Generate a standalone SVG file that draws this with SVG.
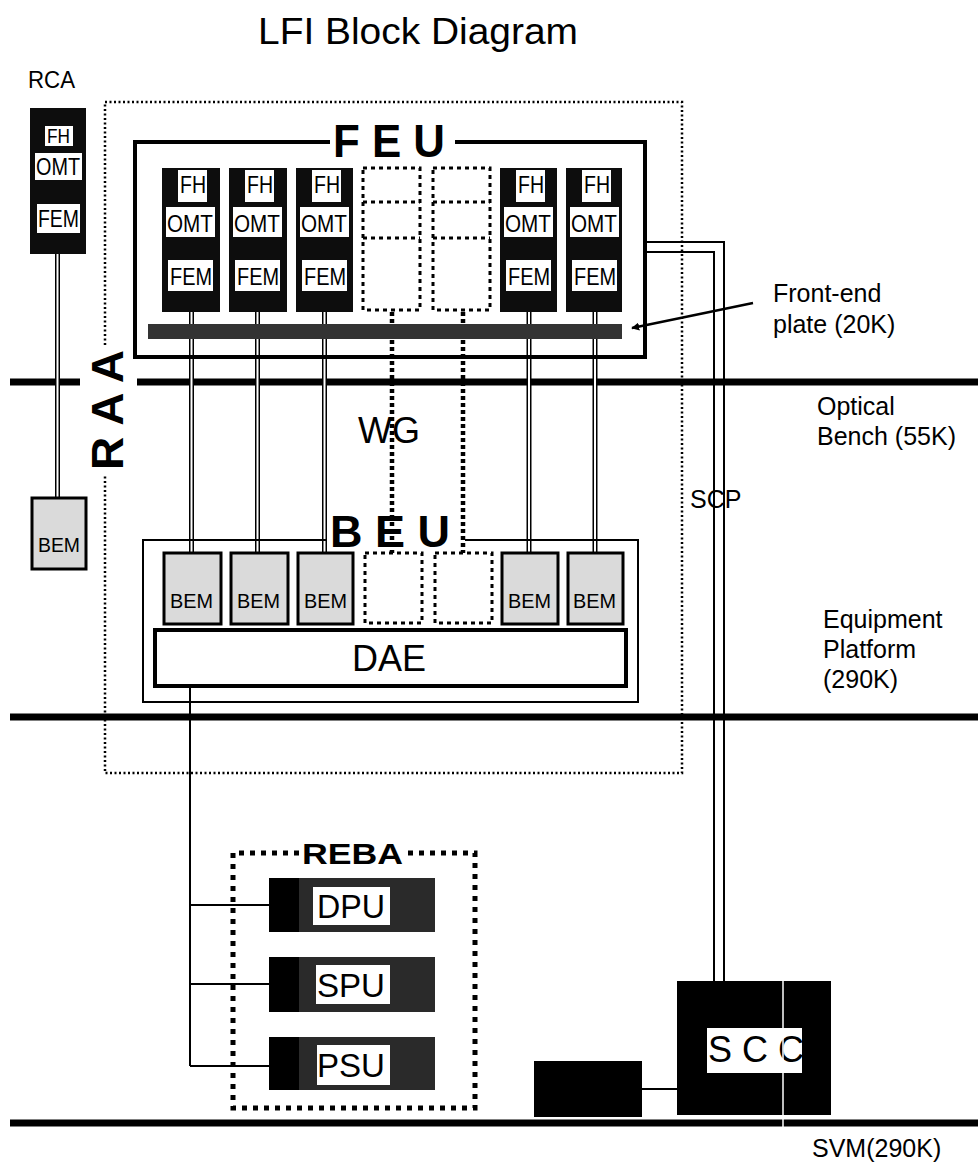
<svg xmlns="http://www.w3.org/2000/svg" width="978" height="1164" viewBox="0 0 978 1164">
<style>
text{font-family:"Liberation Sans",Arial,sans-serif;fill:#000}
.lbl{font-size:25px}
.mod{font-size:24px}
.bem{font-size:21px}
.bold{font-weight:bold}
.col{fill:#0d0d0d}
.wbox{fill:#fff}
.bemr{fill:#dadada;stroke:#000;stroke-width:3}
.bench{stroke:#000;stroke-width:7;fill:none}
.dotted{fill:none;stroke:#000;stroke-width:2.5;stroke-dasharray:2 2.5}
.dash{fill:none;stroke:#000;stroke-width:3;stroke-dasharray:4 4}
.wg{fill:none;stroke:#000;stroke-width:4.5;stroke-dasharray:4 3}
.dbl{fill:none;stroke:#000;stroke-width:5}
.dblw{fill:none;stroke:#fff;stroke-width:2}
.thin{fill:none;stroke:#000;stroke-width:2}
</style>
<defs>
<marker id="arr" viewBox="0 0 10 10" refX="9" refY="5" markerWidth="8" markerHeight="8" markerUnits="userSpaceOnUse" orient="auto">
<path d="M0,0 L10,5 L0,10 z" fill="#000"/>
</marker>
<clipPath id="sccclip"><rect x="707" y="1028" width="95" height="45"/></clipPath>
</defs>
<rect width="978" height="1164" fill="#fff"/>

<g id="title"><text x="258" y="44" font-size="37" textLength="320" lengthAdjust="spacingAndGlyphs">LFI Block Diagram</text></g>

<g id="benches">
<path class="bench" d="M10,382 H80 M137,382 H978"/>
<path class="bench" d="M10,717 H978"/>
<path class="bench" d="M10,1123 H978"/>
</g>

<g id="raa">
<path class="dotted" d="M105,345 V102 H682 V773 H105 V475"/>
<text class="bold" font-size="44" transform="translate(123,470) rotate(-90)" textLength="120" lengthAdjust="spacingAndGlyphs">R A A</text>
</g>

<g id="connectors">
<path class="dbl" d="M57.5,254 V498 M191.5,312 V553 M257.5,312 V553 M324.5,312 V553 M529,312 V553 M595,312 V553"/>
<path class="dblw" d="M57.5,254 V498 M191.5,312 V553 M257.5,312 V553 M324.5,312 V553 M529,312 V553 M595,312 V553"/>
<path class="wg" d="M392,312 V553 M463,312 V553"/>
<path class="thin" d="M647,242 H724 V981 M647,252 H714 V981"/>
<path class="thin" d="M190,688 V1066 M190,905 H269 M190,984 H269 M190,1066 H269"/>
<path class="thin" d="M642,1089 H677"/>
<path fill="none" stroke="#000" stroke-width="2.5" d="M753,303 L632,328" marker-end="url(#arr)"/>
</g>

<g id="rca">
<text x="28" y="88" font-size="24" textLength="47" lengthAdjust="spacingAndGlyphs">RCA</text>
<rect class="col" x="30" y="108" width="56" height="146"/>
<rect class="wbox" x="45" y="126" width="28" height="20"/>
<text x="47" y="143" font-size="20" textLength="23" lengthAdjust="spacingAndGlyphs">FH</text>
<rect class="wbox" x="35" y="153" width="47" height="27"/>
<text x="36" y="175" font-size="24" textLength="44" lengthAdjust="spacingAndGlyphs">OMT</text>
<rect class="wbox" x="37" y="204" width="43" height="29"/>
<text x="38" y="227" font-size="23" textLength="41" lengthAdjust="spacingAndGlyphs">FEM</text>
</g>
<g id="rca-bem">
<rect class="bemr" x="32" y="498" width="54" height="71"/>
<text class="bem" x="38" y="552" textLength="42" lengthAdjust="spacingAndGlyphs">BEM</text>
</g>

<g id="feu">
<path fill="none" stroke="#000" stroke-width="4" d="M330,142 H135 V357 H645 V142 H455"/>
<text class="bold" font-size="46" x="333" y="157" textLength="112" lengthAdjust="spacingAndGlyphs">F E U</text>
<rect x="148" y="324" width="474" height="15" fill="#333"/>
<path class="dash" d="M363,168 H420 V310 H363 Z M433,168 H490 V310 H433 Z M363,202 H420 M363,238 H420 M433,202 H490 M433,238 H490"/>
</g>

<g id="fem1">
<rect class="col" x="162" y="168" width="58" height="144"/>
<rect class="wbox" x="178" y="170" width="29" height="32"/><text class="mod" x="180" y="193" textLength="26" lengthAdjust="spacingAndGlyphs">FH</text>
<rect class="wbox" x="166" y="207" width="49" height="30"/><text class="mod" x="167" y="232" textLength="46" lengthAdjust="spacingAndGlyphs">OMT</text>
<rect class="wbox" x="168" y="260" width="45" height="31"/><text class="mod" x="170" y="285" textLength="42" lengthAdjust="spacingAndGlyphs">FEM</text>
</g>
<g id="fem2">
<rect class="col" x="229" y="168" width="58" height="144"/>
<rect class="wbox" x="245" y="170" width="29" height="32"/><text class="mod" x="247" y="193" textLength="26" lengthAdjust="spacingAndGlyphs">FH</text>
<rect class="wbox" x="233" y="207" width="49" height="30"/><text class="mod" x="234" y="232" textLength="46" lengthAdjust="spacingAndGlyphs">OMT</text>
<rect class="wbox" x="235" y="260" width="45" height="31"/><text class="mod" x="237" y="285" textLength="42" lengthAdjust="spacingAndGlyphs">FEM</text>
</g>
<g id="fem3">
<rect class="col" x="296" y="168" width="57" height="144"/>
<rect class="wbox" x="312" y="170" width="29" height="32"/><text class="mod" x="314" y="193" textLength="26" lengthAdjust="spacingAndGlyphs">FH</text>
<rect class="wbox" x="300" y="207" width="49" height="30"/><text class="mod" x="301" y="232" textLength="46" lengthAdjust="spacingAndGlyphs">OMT</text>
<rect class="wbox" x="302" y="260" width="45" height="31"/><text class="mod" x="304" y="285" textLength="42" lengthAdjust="spacingAndGlyphs">FEM</text>
</g>
<g id="fem4">
<rect class="col" x="500" y="168" width="57" height="144"/>
<rect class="wbox" x="516" y="170" width="29" height="32"/><text class="mod" x="518" y="193" textLength="26" lengthAdjust="spacingAndGlyphs">FH</text>
<rect class="wbox" x="504" y="207" width="49" height="30"/><text class="mod" x="505" y="232" textLength="46" lengthAdjust="spacingAndGlyphs">OMT</text>
<rect class="wbox" x="506" y="260" width="45" height="31"/><text class="mod" x="508" y="285" textLength="42" lengthAdjust="spacingAndGlyphs">FEM</text>
</g>
<g id="fem5">
<rect class="col" x="566" y="168" width="56" height="144"/>
<rect class="wbox" x="582" y="170" width="29" height="32"/><text class="mod" x="584" y="193" textLength="26" lengthAdjust="spacingAndGlyphs">FH</text>
<rect class="wbox" x="570" y="207" width="49" height="30"/><text class="mod" x="571" y="232" textLength="46" lengthAdjust="spacingAndGlyphs">OMT</text>
<rect class="wbox" x="572" y="260" width="45" height="31"/><text class="mod" x="574" y="285" textLength="42" lengthAdjust="spacingAndGlyphs">FEM</text>
</g>

<g id="wg"><text x="358" y="443" font-size="36" textLength="62" lengthAdjust="spacingAndGlyphs">WG</text></g>

<g id="beu">
<path fill="none" stroke="#000" stroke-width="2" d="M327,540 H143 V702 H638 V540 H465"/>
<text class="bold" font-size="44" x="330" y="547" textLength="120" lengthAdjust="spacingAndGlyphs">B E U</text>
<path class="dash" d="M365,553 H422 V623 H365 Z M435,553 H492 V623 H435 Z" stroke-dasharray="3 4"/>
</g>
<g id="bem1"><rect class="bemr" x="164" y="553" width="57" height="71"/><text class="bem" x="170" y="608" textLength="43" lengthAdjust="spacingAndGlyphs">BEM</text></g>
<g id="bem2"><rect class="bemr" x="231" y="553" width="57" height="71"/><text class="bem" x="237" y="608" textLength="43" lengthAdjust="spacingAndGlyphs">BEM</text></g>
<g id="bem3"><rect class="bemr" x="298" y="553" width="55" height="71"/><text class="bem" x="304" y="608" textLength="43" lengthAdjust="spacingAndGlyphs">BEM</text></g>
<g id="bem4"><rect class="bemr" x="502" y="553" width="56" height="71"/><text class="bem" x="508" y="608" textLength="43" lengthAdjust="spacingAndGlyphs">BEM</text></g>
<g id="bem5"><rect class="bemr" x="568" y="553" width="55" height="71"/><text class="bem" x="573" y="608" textLength="43" lengthAdjust="spacingAndGlyphs">BEM</text></g>
<g id="dae">
<rect x="155" y="630" width="471" height="56" fill="#fff" stroke="#000" stroke-width="4"/>
<text x="352" y="671" font-size="36" textLength="74" lengthAdjust="spacingAndGlyphs">DAE</text>
</g>

<g id="reba">
<path fill="none" stroke="#000" stroke-width="5" stroke-dasharray="5 6" d="M299,853 H233 V1108 H475 V853 H407"/>
<text class="bold" x="302" y="864" font-size="30" textLength="101" lengthAdjust="spacingAndGlyphs">REBA</text>
</g>
<g id="dpu">
<rect x="269" y="878" width="166" height="54" fill="#2a2a2a"/><rect x="269" y="878" width="30" height="54" fill="#000"/>
<rect class="wbox" x="313" y="887" width="77" height="38"/>
<text x="317" y="918" font-size="34" textLength="68" lengthAdjust="spacingAndGlyphs">DPU</text>
</g>
<g id="spu">
<rect x="269" y="957" width="166" height="55" fill="#2a2a2a"/><rect x="269" y="957" width="30" height="55" fill="#000"/>
<rect class="wbox" x="316" y="965" width="74" height="39"/>
<text x="317" y="997" font-size="34" textLength="68" lengthAdjust="spacingAndGlyphs">SPU</text>
</g>
<g id="psu">
<rect x="269" y="1037" width="166" height="53" fill="#2a2a2a"/><rect x="269" y="1037" width="30" height="53" fill="#000"/>
<rect class="wbox" x="317" y="1045" width="73" height="40"/>
<text x="317" y="1077" font-size="34" textLength="68" lengthAdjust="spacingAndGlyphs">PSU</text>
</g>

<g id="scc">
<rect x="677" y="981" width="154" height="134" fill="#000"/>
<rect class="wbox" x="707" y="1028" width="95" height="45"/>
<text x="708" y="1062" font-size="36" clip-path="url(#sccclip)">S C C</text>
<line x1="783" y1="981" x2="783" y2="1130" stroke="#fff" stroke-width="1.5"/>
</g>
<g id="box"><rect x="534" y="1061" width="108" height="56" fill="#000"/></g>

<g id="labels">
<text class="lbl" x="773" y="302">Front-end</text>
<text class="lbl" x="773" y="333">plate (20K)</text>
<text class="lbl" x="817" y="415">Optical</text>
<text class="lbl" x="817" y="445">Bench (55K)</text>
<text class="lbl" x="690" y="508">SCP</text>
<text class="lbl" x="823" y="628">Equipment</text>
<text class="lbl" x="823" y="658">Platform</text>
<text class="lbl" x="823" y="688">(290K)</text>
<text class="lbl" x="812" y="1157" font-size="24">SVM(290K)</text>
</g>
</svg>
